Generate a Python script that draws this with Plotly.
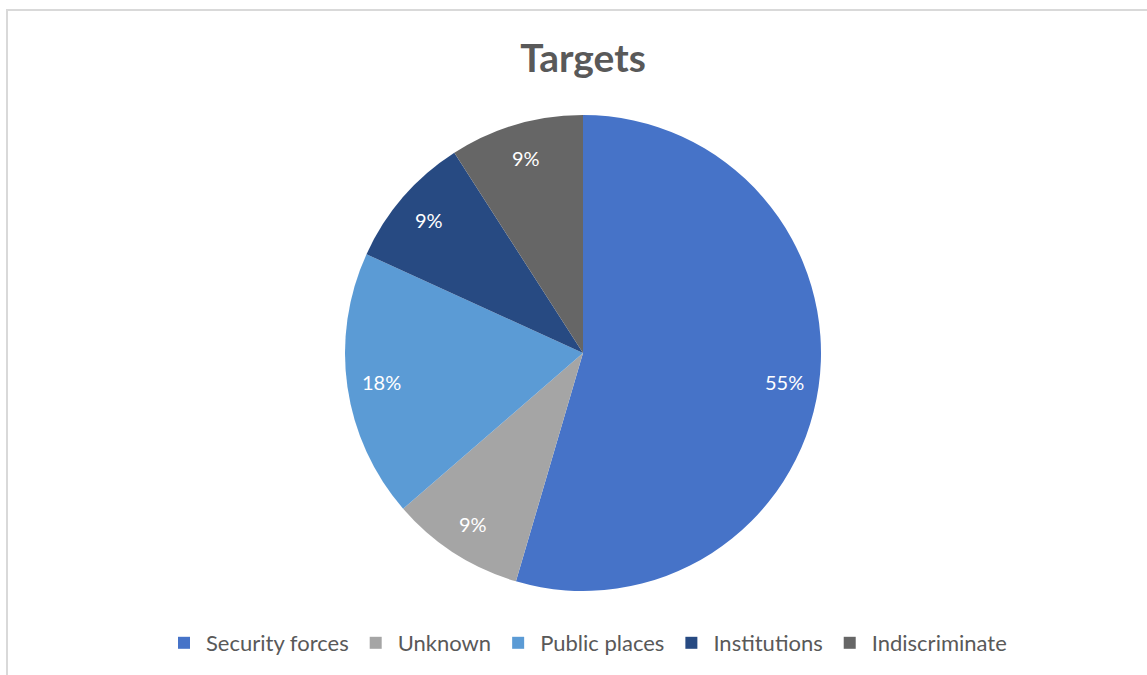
import math
import plotly.graph_objects as go

categories = ["Security forces", "Unknown", "Public places", "Institutions", "Indiscriminate"]
values = [6, 1, 2, 1, 1]
colors = ["#4673C8", "#A5A5A5", "#5B9BD5", "#274A82", "#666666"]

W, H = 1147, 675
cx, cy, R = 583, 353, 238
label_r = 0.855 * R

fig = go.Figure(go.Pie(
    labels=categories,
    values=values,
    sort=False,
    direction="clockwise",
    rotation=0,
    marker=dict(colors=colors, line=dict(color="white", width=0)),
    textinfo="none",
    domain=dict(x=[(cx - R) / W, (cx + R) / W], y=[1 - (cy + R) / H, 1 - (cy - R) / H]),
    hoverinfo="label+percent",
))

# data labels along each slice's mid-angle (clockwise from 12 o'clock)
total = sum(values)
annotations = []
cum = 0
for v in values:
    mid = (cum + v / 2) / total * 2 * math.pi
    cum += v
    px = cx + label_r * math.sin(mid)
    py = cy - label_r * math.cos(mid)
    annotations.append(dict(
        x=px / W, y=1 - py / H, xref="paper", yref="paper",
        text=f"{round(100 * v / total)}%", showarrow=False,
        xanchor="center", yanchor="middle",
        font=dict(family="Lato", size=20, color="white"),
    ))

fig.update_layout(
    width=W, height=H,
    margin=dict(l=0, r=0, t=0, b=0),
    paper_bgcolor="white",
    plot_bgcolor="white",
    title=dict(text="<b>Targets</b>", x=cx / W, xanchor="center", y=1 - 58 / H, yanchor="middle",
               font=dict(family="Lato", size=39, color="#595959")),
    legend=dict(orientation="h", x=587 / W, xanchor="center", y=1 - 643 / H, yanchor="middle",
                font=dict(family="Lato", size=22, color="#595959"), itemwidth=34,
                traceorder="normal"),
    annotations=annotations,
    shapes=[
        dict(type="line", xref="paper", yref="paper", x0=7 / W, x1=7 / W, y0=0, y1=1 - 9 / H,
             line=dict(color="#D9D9D9", width=2)),
        dict(type="line", xref="paper", yref="paper", x0=7 / W, x1=1, y0=1 - 10 / H, y1=1 - 10 / H,
             line=dict(color="#D9D9D9", width=2)),
    ],
)

fig.write_html("out.html", config={"displayModeBar": False},
               post_script="document.body.style.margin='0';")
